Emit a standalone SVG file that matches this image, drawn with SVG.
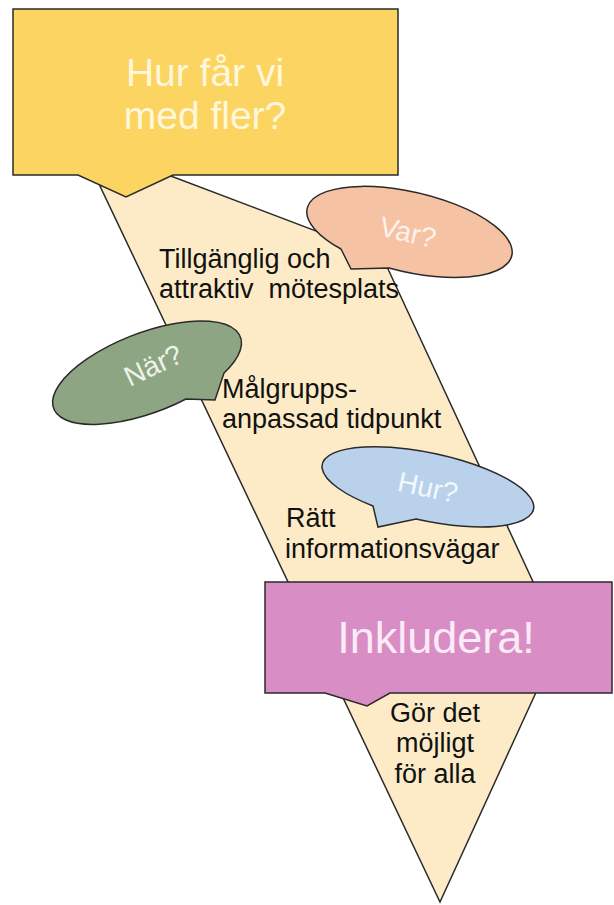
<svg xmlns="http://www.w3.org/2000/svg" width="614" height="905" viewBox="0 0 614 905">
<style>
.shape{stroke:#2a2a2a;stroke-width:1.5;stroke-linejoin:miter}
.t{font-family:"Liberation Sans",Arial,sans-serif}
.lbl{font-size:27px;fill:#111}
.big{fill:#fff7da}
.q{font-size:28px}
</style>
<rect width="614" height="905" fill="#ffffff"/>
<g id="band">
<path class="shape" fill="#fdebc7" d="M90,165 L155,170 L382,256 L560,640 L440,902 Z"/>
</g>
<g id="connectors"/>
<g id="top-box">
<path class="shape" fill="#fcd462" d="M13,9 H398 V175 H173 L126,197 L78,175 H13 Z"/>
<text class="t big" x="205" y="86" font-size="39" text-anchor="middle">Hur får vi</text>
<text class="t big" x="205" y="129" font-size="39" text-anchor="middle">med fler?</text>
</g>
<g id="var-bubble">
<path class="shape" fill="#f5c3a3" d="M341,249 L351,269 L389,268 A105 40 13 1 0 341,249 Z"/>
<text class="t q" x="408" y="242" fill="#fdf1ea" text-anchor="middle" transform="rotate(13 408 232)">Var?</text>
</g>
<g id="nar-bubble">
<path class="shape" fill="#8ea583" d="M224,373 L215,400 L186,399 A100 40 -21 1 1 224,373 Z"/>
<text class="t q" x="153" y="375" fill="#eef3ea" text-anchor="middle" transform="rotate(-25 153 365)">När?</text>
</g>
<g id="hur-bubble">
<path class="shape" fill="#b9d1eb" d="M373,506 L378,527 L416,519 A108 34 12 1 0 373,506 Z"/>
<text class="t q" x="428" y="497" fill="#f3f8fd" text-anchor="middle" transform="rotate(12 428 487)">Hur?</text>
</g>
<g id="plats">
<text class="t lbl" x="159" y="268">Tillgänglig och</text>
<text class="t lbl" x="159" y="298" xml:space="preserve">attraktiv  mötesplats</text>
</g>
<g id="tidpunkt">
<text class="t lbl" x="222" y="398">Målgrupps-</text>
<text class="t lbl" x="222" y="428">anpassad tidpunkt</text>
</g>
<g id="info">
<text class="t lbl" x="286" y="527">Rätt</text>
<text class="t lbl" x="285" y="558">informationsvägar</text>
</g>
<g id="inkludera">
<path class="shape" fill="#d88ec5" d="M265,582 H612 V693 H390 L367,706 L325,693 H265 Z"/>
<text class="t" x="436" y="653" font-size="45" fill="#fcebf6" text-anchor="middle">Inkludera!</text>
</g>
<g id="mojligt">
<text class="t lbl" x="435" y="722" text-anchor="middle">Gör det</text>
<text class="t lbl" x="435" y="752" text-anchor="middle">möjligt</text>
<text class="t lbl" x="435" y="783" text-anchor="middle">för alla</text>
</g>
</svg>
